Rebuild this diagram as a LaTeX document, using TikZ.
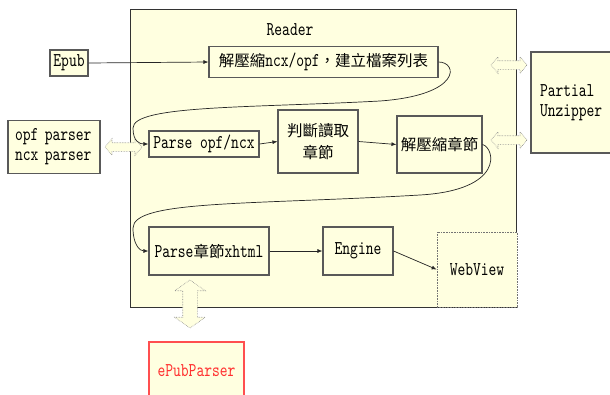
\documentclass[tikz,border=0pt]{standalone}
\usepackage{fontspec}
\setmainfont{lmmono10-regular.otf}[FakeStretch=0.76]
\newfontfamily\zhfont{Noto Sans CJK TC}
\newcommand\zh[1]{{\zhfont\fontsize{15.5}{20}\selectfont #1}}
\usetikzlibrary{arrows.meta,shapes.arrows}
\definecolor{paper}{HTML}{FFFFE0}
\definecolor{alert}{HTML}{FF3030}

\begin{document}
\begin{tikzpicture}[x=1pt,y=-1pt,
  font=\fontsize{19.5}{20}\selectfont,
  box/.style={draw=black!65,line width=1.1pt,fill=paper,inner sep=0pt},
  flow/.style={-{Latex[length=5pt,width=4pt]},line width=0.7pt,black!85},
  hollow/.style={double arrow,draw=black!45,densely dotted,line width=0.6pt,fill=paper,
    inner sep=4pt,double arrow head extend=4pt,double arrow tip angle=100,minimum height=36pt}]
\useasboundingbox (0,0) rectangle (610,394);

% reader container
\node[box,draw=black!80,line width=0.9pt,minimum width=386,minimum height=298] (reader) at (323,158) {};
\node (title) at (290,30) {Reader};

% outside boxes
\node[box,minimum width=38,minimum height=26] (epub) at (69,63) {Epub};
\node[box,minimum width=92,minimum height=53,text width=78,align=left] (parsers) at (54,147) {opf parser\\ncx parser};
\node[box,minimum width=81,minimum height=101,text width=63,inner xsep=9pt,align=left] (unzipper) at (571.5,102.5) {Partial\\Unzipper};
\node[box,draw=alert!85,text=alert,minimum width=95,minimum height=58] (epubparser) at (196.5,371) {ePubParser};

% steps inside the reader
\node[box,minimum width=229,minimum height=31] (unzipinfo) at (323.5,62) {\zh{解壓縮}ncx/opf\zh{，建立檔案列表}};
\node[box,minimum width=110,minimum height=26] (parseopf) at (204,144) {Parse opf/ncx};
\node[box,minimum width=80,minimum height=63,align=center] (judge) at (318,141.5) {\zh{判斷讀取}\\[2pt]\zh{章節}};
\node[box,minimum width=85,minimum height=57] (unzipchap) at (439.5,144.5) {\zh{解壓縮章節}};
\node[box,minimum width=120,minimum height=48] (parsexhtml) at (209,251) {Parse\zh{章節}xhtml};
\node[box,minimum width=70,minimum height=48] (engine) at (358,251) {Engine};
\node[box,draw=black!55,line width=0.6pt,densely dotted,minimum width=80,minimum height=75] (webview) at (477,269.5) {WebView};

% links to the helpers
\node[hollow,minimum height=37pt] (toparsers) at (123.5,147) {};
\foreach \y/\n in {65/zipa,140/zipb}
  \node[hollow] (\n) at (509,\y) {};
\node[hollow,shape border rotate=90,inner sep=7pt,double arrow head extend=8pt,
  double arrow tip angle=110,minimum height=48pt] (toepub) at (190,304) {};

% flow
\draw[flow] (epub.east) -- (unzipinfo.west);
\draw[flow] (unzipinfo.east) .. controls (458,62) and (462,95) .. (380,101)
  .. controls (250,108) and (133,105) .. (133,128)
  .. controls (133,142) and (140,144) .. (parseopf.west);
\draw[flow] (parseopf.east) -- (judge.west);
\draw[flow] (judge.east) -- (unzipchap.west);
\draw[flow] (unzipchap.east) .. controls (495,148) and (505,190) .. (420,195)
  .. controls (250,205) and (133,200) .. (133,228)
  .. controls (133,245) and (140,251) .. (parsexhtml.west);
\draw[flow] (parsexhtml.east) -- (engine.west);
\draw[flow] (engine.east) -- (webview.west);
\end{tikzpicture}
\end{document}
